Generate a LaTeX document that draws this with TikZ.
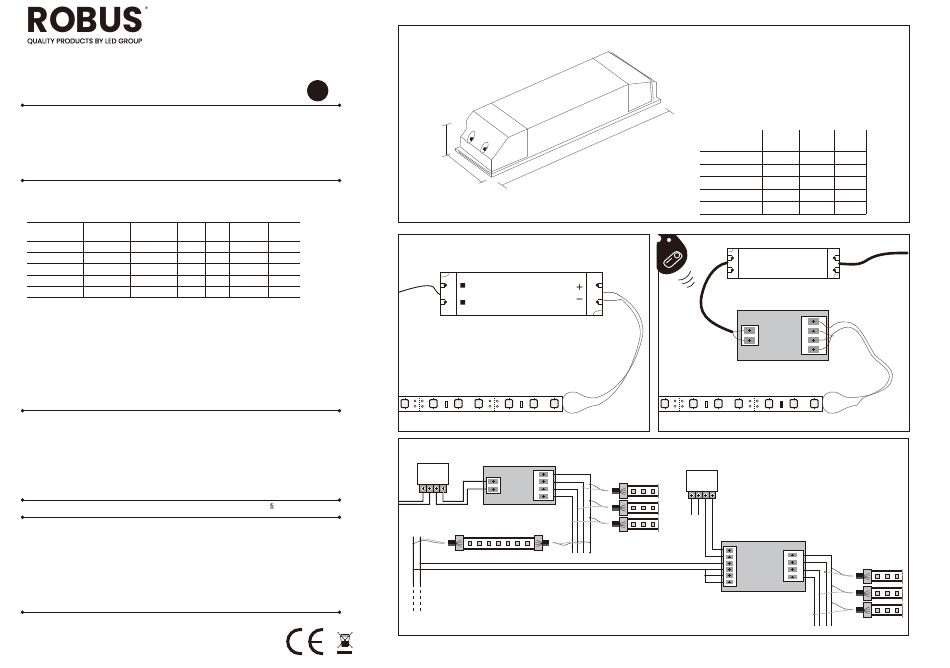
\documentclass[tikz,border=0pt]{standalone}
\usepackage{fontspec}
\usepackage{graphicx}
\newfontfamily\logofont{Poppins}
\newfontfamily\plainfont{Liberation Sans}
\definecolor{ink}{RGB}{35,24,21}
\definecolor{panelgray}{RGB}{200,201,202}
\definecolor{padgray}{RGB}{158,158,158}
\newcommand{\zbox}[6]{\node[#2,inner sep=0pt,outer sep=0pt,minimum width={(#5-#3)/3*1pt},minimum height={(#6-#4)/3*1pt}] (#1) at ({(#3+#5)/2},{(#4+#6)/2}) {};}
\newcommand{\zpad}[5]{\zbox{#1}{padbox}{#2}{#3}{#4}{#5}\draw[line width=.6pt,ink] (#1.center) +(-4,0) -- +(4,0) (#1.center) +(0,-4) -- +(0,4);}
\newcommand{\zterm}[3]{\zbox{#1}{termcell}{#2}{149}{#3}{172}}
\newcommand{\lugshape}{%
    \draw[ink,line width=.5pt] (0,-7) -- (13,-7) (0,7) -- (13,7) -- (13,3);
    \fill[ink] (15,0) circle (5.5);}
\newcommand{\plugshape}{%
    \fill[ink] (-33,-9) rectangle (-12,2);
    \fill[gray!65!black] (-33,2) rectangle (-12,9);
    \filldraw[draw=ink,line width=.8pt,fill=gray!45] (-12,-22) rectangle (12,22);
    \draw[ink,line width=.25pt] (-12,-1) -- (6,-9) (-12,1) -- (8,-2) (-12,2) -- (8,5) (-12,4) -- (6,11);}
\newcommand{\ledshape}[1]{%
    \draw[ink,line width=1pt,fill=gray!12,rounded corners=1pt] (#1-11,10) rectangle (#1+11,34);
    \draw[ink,line width=.3pt] (#1,10) -- (#1,6) (#1,34) -- (#1,38);}
\newcommand{\padshape}[1]{%
    \draw[ink,line width=.3pt,fill=gray!40] (#1,14) circle (3.5) (#1,30) circle (3.5) (#1+22,14) circle (3.5) (#1+22,30) circle (3.5);
    \draw[ink,line width=.3pt,dash pattern=on 1pt off 1pt] (#1+11,0) -- (#1+11,45);}
\tikzset{
  zs/.style={xscale=0.33333,yscale=0.33333},
  frame/.style={draw=ink,line width=.9pt},
  rulebar/.style={ink,line width=.9pt},
  tablerule/.style={ink,line width=.8pt},
  prod/.style={draw=ink!70,line width=.35pt},
  wire/.style={draw=ink,line width=.9pt},
  thinwire/.style={draw=ink!85,line width=.4pt},
  palewire/.style={draw=gray!55,line width=.9pt},
  fatwire/.style={draw=ink,line width=2.6pt,line cap=round},
  driverbox/.style={draw=ink,line width=.8pt,fill=white},
  ctrlbox/.style={draw=ink,line width=.9pt,fill=panelgray},
  whitebox/.style={draw=ink,line width=.9pt,fill=white},
  padbox/.style={fill=padgray},
  termcell/.style={draw=ink,line width=.5pt,fill=gray!70},
  relaybox/.style={draw=ink,line width=.8pt,fill=white},
  junction/.style={fill=ink},
  lug/.pic={\begin{scope}[zs]\lugshape\end{scope}},
  lugm/.pic={\begin{scope}[xscale=-0.33333,yscale=0.33333]\lugshape\end{scope}},
  plug/.pic={\begin{scope}[zs]\plugshape\end{scope}},
  plugm/.pic={\begin{scope}[xscale=-0.33333,yscale=0.33333]\plugshape\end{scope}},
  tailstrip/.pic={\begin{scope}[zs]
    \draw[ink,line width=1.7pt] (12,-15) -- (104,-15) (12,15) -- (104,15);
    \draw[ink,line width=.4pt] (104,-22) .. controls (100,-12) and (110,-6) .. (106,2) .. controls (102,8) and (110,16) .. (105,22);
    \foreach \q in {29,59,88} {
      \filldraw[draw=ink,line width=.6pt,fill=gray!35] (\q-5.5,-5.5) rectangle (\q+5.5,5.5);
    }
    \plugshape
  \end{scope}},
  ledstrip/.pic={\begin{scope}[zs]
    \draw[ink,line width=.8pt] (0,0) rectangle (493,45);
    \ledshape{19}\ledshape{105}\ledshape{180}\ledshape{241}\ledshape{332}\ledshape{406}\ledshape{468}
    \padshape{50}\padshape{275}
    \draw[ink,line width=.7pt,fill=white] (141,15) rectangle (148,33);
    \draw[ink,line width=.7pt,fill=white] (366,15) rectangle (373,33);
  \end{scope}}
}
\begin{document}
\begin{tikzpicture}[x=1pt,y=-1pt]
\useasboundingbox (0,0) rectangle (950,667);
\fill[white] (0,0) rectangle (950,667);

% ------------------ left column
\node[inner sep=0pt,anchor=base west,text=ink] (logo) at (26.5,32) {\raisebox{0pt}[\height][0pt]{\resizebox{117pt}{25.5pt}{\logofont\bfseries ROBUS}}};
\node[inner sep=0pt,text=ink,font=\logofont\fontsize{6.5}{7}\selectfont] (regmark) at (146.5,9.7) {®};
\node[inner sep=0pt,anchor=base west,text=ink] (tagline) at (27,43.4) {\raisebox{0pt}[4.8pt][0pt]{\resizebox{115pt}{!}{\logofont\addfontfeature{FakeBold=0.4}\fontsize{6.5}{7}\selectfont QUALITY PRODUCTS BY LED GROUP}}};
\fill[ink] (317.7,90.7) circle (10.7);
\foreach \y in {105.3,180.5,410.7,500,517.3,612.3} {
  \draw[rulebar] (22.5,\y) -- (339.5,\y);
  \fill[ink] (22.5,\y) circle (1.9) (339.5,\y) circle (1.9);
}
\foreach \y in {222,241,252.3,263.3,275.3,286.3,297.3} { \draw[tablerule] (27.3,\y) -- (299.7,\y); }
\foreach \x in {83.3,130.3,177.3,205.3,229.3,268.3} { \draw[tablerule] (\x,222) -- (\x,297.3); }
\node[inner sep=0pt,text=ink,font=\plainfont\fontsize{8}{9}\selectfont] (fitext) at (272,507) {fi};

% CE and WEEE marks
\draw[ink,line width=3pt] (302,629.6) -- (299.7,629.6) arc[start angle=270,end angle=90,radius=12] -- (302,653.6);
\draw[ink,line width=3pt] (323,629.6) -- (321.7,629.6) arc[start angle=270,end angle=90,radius=12] -- (323,653.6);
\draw[ink,line width=2.2pt] (310.5,641.6) -- (322,641.6);
\draw[ink,line width=.5pt] (337.5,632) -- (352.5,648) (352.5,632) -- (337.5,648);
\draw[ink,line width=.6pt] (340.5,636) -- (349.5,636) -- (348,646.5) -- (342,646.5) -- cycle (341,634.5) -- (349,634.5);
\fill[ink] (341.5,641) rectangle (348.5,646);
\fill[ink] (337,651) rectangle (352,654);

% ------------------ panels
\draw[frame] (398.3,25.7) rectangle (909,222);
\draw[frame] (398.3,234.7) rectangle (649.7,431.3);
\draw[frame] (658.3,234.7) rectangle (909,431.3);
\draw[frame] (398.3,438.3) rectangle (908.7,635.3);

% ------------------ top panel: product
\begin{scope}[shift={(395,20)},scale=0.33333]
  \draw[prod] (235,273) -- (640,95) -- (780,185) -- (785,187) -- (785,232) -- (797,238) -- (797,248) -- (290,472) -- (181,392) -- (181,385) -- (195,380);
  \draw[prod] (235,273) .. controls (225,285) and (212,300) .. (214,308) .. controls (220,325) and (212,330) .. (197,350) -- (195,380) -- (290,455) -- (397,410) -- (397,327) -- (700,193) -- (700,275) -- (770,243);
  \draw[prod] (235,273) -- (340,352) -- (397,327);
  \draw[prod] (290,250) -- (397,327);
  \draw[prod] (592,113) -- (700,193) -- (780,185);
  \draw[prod] (340,352) -- (290,420) -- (197,350);
  \draw[prod] (290,420) -- (290,472);
  \draw[prod] (181,385) -- (290,462) -- (797,238);
  \draw[prod] (190,395) -- (285,463);
  \draw[prod] (640,95) -- (690,125) -- (770,178) -- (775,240);
  \draw[prod] (650,97) -- (765,178) -- (770,243);
  \draw[prod,fill=white] (218,370) .. controls (212,358) and (228,330) .. (238,333) .. controls (245,340) and (232,372) .. (218,370);
  \draw[prod,fill=white] (258,400) .. controls (252,388) and (268,362) .. (278,366) .. controls (285,372) and (272,402) .. (258,400);
  \fill[ink] (226,352) -- (236,352) -- (230,363) -- (224,360) -- cycle;
  \fill[ink] (266,382) -- (276,382) -- (270,393) -- (264,390) -- cycle;
  \draw[ink,line width=1pt] (154,315) -- (154,405);
  \draw[prod] (140,318) -- (168,310) (140,411) -- (166,402);
  \draw[prod] (155,403) -- (262,488) (250,490) -- (275,480);
  \draw[prod] (322,495) -- (825,272);
  \draw[prod] (308,487) -- (335,505) (812,265) -- (838,283);
\end{scope}

% table in top panel
\begin{scope}[shift={(680,110)},scale=0.33333]
  \foreach \y in {124,162,199,238,274,313} { \draw[tablerule] (59,\y) -- (559,\y); }
  \foreach \x in {247,358,464,559} { \draw[tablerule] (\x,60) -- (\x,313); }
\end{scope}

% ------------------ middle left panel
\begin{scope}[shift={(395,232)},scale=0.33333]
  \zbox{driverL}{driverbox}{136}{122}{622}{250}
  \draw[ink,line width=.7pt] (185,122) -- (185,250) (574,122) -- (574,250);
  \pic at (136,159.5) {lug};
  \pic at (136,210) {lug};
  \pic at (622,159.5) {lugm};
  \pic at (622,210) {lugm};
  \draw[prod] (136,135) .. controls (150,135) and (165,132) .. (163,122);
  \draw[prod] (622,235) .. controls (605,235) and (592,240) .. (596,250);
  \fill[ink] (196,153) rectangle (210,167) (196,204) rectangle (210,218);
  \node[inner sep=0pt,text=ink,font=\plainfont\fontsize{12}{12}\selectfont] (plusL) at (554,169) {+};
  \node[inner sep=0pt,text=ink,font=\plainfont\fontsize{12}{12}\selectfont] (minusL) at (554,207) {−};
  \coordinate (mainsL) at (10,181);
  \draw[ink,line width=.9pt] (mainsL) .. controls (60,165) and (100,155) .. (115,165) .. controls (122,172) and (125,184) .. (136,188);
  % wires to strip
  \coordinate (splitLa) at (680,195);
  \coordinate (splitLb) at (680,202);
  \coordinate (blobLa) at (600,498);
  \coordinate (blobLb) at (605,520);
  \draw[ink!85,line width=.5pt] (622,183) .. controls (650,178) and (660,180) .. (splitLa);
  \draw[ink!85,line width=.5pt] (622,204) .. controls (650,208) and (665,205) .. (splitLb);
  \draw[prod,line width=.45pt] (blobLa) .. controls (670,480) and (725,400) .. (743,310) .. controls (750,260) and (715,215) .. (splitLa);
  \draw[prod,line width=.45pt] (blobLb) .. controls (670,495) and (718,400) .. (735,315) .. controls (742,265) and (705,225) .. (splitLb);
  \pic at (10,493) {ledstrip};
  \draw[prod,line width=.45pt] (blobLa) .. controls (560,498) and (555,482) .. (540,480) .. controls (520,478) and (500,485) .. (503,515) .. controls (503,545) and (530,548) .. (550,540) .. controls (565,533) and (580,522) .. (blobLb);
\end{scope}

% ------------------ middle right panel
\begin{scope}[shift={(655,232)},scale=0.33333]
  % remote
  \fill[ink] (8,8) -- (62,8) .. controls (85,35) and (100,50) .. (97,72) .. controls (95,100) and (65,125) .. (35,127) .. controls (20,128) and (8,118) .. (5,108) -- (5,40) -- cycle;
  \fill[white] (8,20) circle (11);
  \fill[white] (42,24) circle (6);
  \draw[white,line width=.9pt,rounded corners=3pt] (22,93) -- (65,55) -- (85,72) -- (42,110) -- cycle;
  \draw[white,line width=.8pt] (66,70) circle (8);
  \draw[white,line width=.8pt] (34,93) -- (50,79);
  \draw[ink,line width=.7pt] (70,144) .. controls (85,145) and (100,135) .. (107,118);
  \draw[ink,line width=.7pt] (82,155) .. controls (97,154) and (108,145) .. (113,135);
  \draw[ink,line width=.7pt] (96,166) .. controls (108,164) and (115,157) .. (118,150);

  \zbox{driverR}{driverbox}{217}{50}{553}{138}
  \draw[ink,line width=.7pt] (250,50) -- (250,138) (518,50) -- (518,138);
  \pic at (217,78) {lug};
  \pic at (217,114) {lug};
  \pic at (553,78) {lugm};
  \pic at (553,114) {lugm};
  \draw[prod] (217,60) .. controls (230,60) and (236,58) .. (235,50);
  \draw[prod] (553,125) .. controls (540,125) and (534,130) .. (536,138);
  \coordinate (mainsR) at (757,63);
  \draw[fatwire] (driverR.east |- 0,95) .. controls (590,97) and (610,100) .. (630,88) .. controls (660,68) and (690,62) .. (mainsR);

  \zbox{ctrlR}{ctrlbox}{247}{236}{521}{386}
  \zbox{inR}{whitebox}{260}{281}{311}{340}
  \zbox{outR}{whitebox}{439}{253}{515}{368}
  \zpad{inR1}{267}{286}{300}{306}
  \zpad{inR2}{267}{315}{300}{335}
  \zpad{outR1}{458}{259}{491}{278}
  \zpad{outR2}{458}{287}{491}{306}
  \zpad{outR3}{458}{315}{491}{334}
  \zpad{outR4}{458}{343}{491}{362}
  \coordinate (feedR) at (232,300);
  \draw[fatwire] (driverR.west |- 0,92) .. controls (175,100) and (150,145) .. (140,190) .. controls (130,240) and (150,270) .. (feedR);
  \draw[thinwire] (feedR) .. controls (240,325) and (250,322) .. (inR2.west);
  \draw[thinwire] (feedR) .. controls (245,300) and (255,295) .. (inR1.west);
  \coordinate (splitRa) at (575,270);
  \coordinate (splitRb) at (580,285);
  \coordinate (blobRa) at (590,497);
  \coordinate (blobRb) at (605,520);
  \draw[prod,line width=.45pt] (splitRa) .. controls (610,270) and (630,320) .. (660,370) .. controls (690,395) and (715,410) .. (712,435) .. controls (710,465) and (680,480) .. (640,490) .. controls (620,494) and (605,497) .. (blobRa);
  \draw[prod,line width=.45pt] (splitRb) .. controls (615,290) and (625,330) .. (650,370) .. controls (670,395) and (705,410) .. (703,435) .. controls (700,462) and (670,480) .. (630,495) .. controls (620,500) and (612,512) .. (blobRb);
  \draw[thinwire] (outR1.east) .. controls (505,268) and (510,290) .. (525,288) .. controls (540,272) and (555,268) .. (splitRa);
  \draw[thinwire] (outR2.east) .. controls (505,297) and (515,310) .. (530,310) .. controls (545,295) and (565,285) .. (splitRb);
  \draw[thinwire] (outR3.east) .. controls (510,325) and (520,322) .. (535,310);
  \draw[thinwire] (outR4.east) .. controls (505,353) and (520,350) .. (530,310);
  \pic at (10,493) {ledstrip};
  \fill[ink] (376,508) rectangle (383,526);
  \draw[prod,line width=.45pt] (blobRa) .. controls (560,498) and (555,482) .. (540,480) .. controls (520,478) and (500,485) .. (503,515) .. controls (503,545) and (530,548) .. (550,540) .. controls (565,533) and (580,522) .. (blobRb);
\end{scope}

% ------------------ bottom panel, left part
\begin{scope}[shift={(395,435)},scale=0.33333]
  \zbox{relayA}{relaybox}{67}{85}{161}{149}
  \zterm{tA1}{74}{94}
  \zterm{tA2}{94}{114}
  \zterm{tA3}{114}{134}
  \zterm{tA4}{134}{154}
  \foreach \n in {tA1,tA2,tA3,tA4} { \draw[white,line width=.8pt] (\n.center) circle (5); \draw[ink,line width=.4pt] (\n.center) +(-4,0) -- +(4,0) (\n.center) +(0,-4) -- +(0,4); }
  \zbox{ctrlA}{ctrlbox}{265}{95}{481}{208}
  \zbox{inA}{whitebox}{274}{127}{316}{176}
  \zbox{outA}{whitebox}{415}{106}{476}{196}
  \zpad{inA1}{279}{132}{310}{147}
  \zpad{inA2}{279}{156}{310}{171}
  \zpad{outA1}{431}{112}{458}{126}
  \zpad{outA2}{431}{133}{458}{147}
  \zpad{outA3}{431}{155}{458}{169}
  \zpad{outA4}{431}{177}{458}{191}
  \coordinate (lineA) at (10,199);
  \coordinate (lineB) at (10,208);
  \draw[wire] (tA1.south) -- (84,199) -- (lineA);
  \draw[wire] (tA2.south) -- (104,208) -- (lineB);
  \draw[wire] (tA3.south) -- (124,208) -- (217,208) -- (217,162) -- (inA.west |- 0,162);
  \draw[wire] (tA4.south) -- (144,199) -- (205,199) -- (205,139) -- (inA.west |- 0,139);
  \draw[palewire] (144,172) -- (144,197);
  \coordinate (busA1) at (585,353);
  \coordinate (busA2) at (565,353);
  \coordinate (busA3) at (548,353);
  \coordinate (busA4) at (532,353);
  \draw[wire] (outA.east |- 0,118) -| (busA1);
  \draw[wire] (outA.east |- 0,141) -| (busA2);
  \draw[wire] (outA.east |- 0,163) -| (busA3);
  \draw[wire] (outA.east |- 0,185) -| (busA4);
  \foreach \p in {(476,118),(476,141),(476,163),(476,185),(585,148),(565,158),(585,197),(548,222),(585,248),(532,260),(585,322),(565,322),(532,335),(585,353)} { \fill[junction] \p circle (2.5); }
  % wires to the three tails
  \coordinate (tailA1) at (640,167);
  \coordinate (tailA2) at (640,216);
  \coordinate (tailA3) at (640,266);
  \draw[thinwire] (585,148) .. controls (610,152) and (615,172) .. (tailA1);
  \draw[gray!60,line width=.6pt] (565,158) .. controls (590,165) and (610,160) .. (tailA1);
  \draw[thinwire] (585,197) .. controls (610,200) and (615,220) .. (tailA2);
  \draw[gray!45,line width=.9pt] (548,222) .. controls (580,215) and (610,212) .. (tailA2);
  \draw[thinwire] (585,248) .. controls (610,250) and (615,270) .. (tailA3);
  \draw[gray!45,line width=.9pt] (532,260) -- (600,260) -- (tailA3);
  \pic at (685,168) {tailstrip};
  \pic at (685,218) {tailstrip};
  \pic at (685,268) {tailstrip};
  % long strip
  \draw[ink,line width=1.7pt] (205,309) -- (418,309) (205,341) -- (418,341);
  \foreach \q in {224,252,281,310,338,367,396} { \filldraw[draw=ink,line width=.6pt,fill=gray!35] (\q-5.5,319.5) rectangle (\q+5.5,330.5); }
  \pic at (193,324) {plug};
  \pic at (430,324) {plugm};
  \coordinate (tapL) at (150,324);
  \coordinate (tapR) at (473,322);
  \coordinate (busL1) at (55,305);
  \coordinate (busL2) at (76,305);
  \draw[thinwire] (55,326) .. controls (70,320) and (80,312) .. (100,318) .. controls (120,322) and (130,326) .. (tapL);
  \draw[gray!60,line width=.6pt] (76,312) .. controls (95,310) and (120,318) .. (tapL);
  \draw[thinwire] (tapR) .. controls (490,322) and (500,335) .. (512,330) .. controls (525,322) and (550,318) .. (585,322);
  \draw[gray!60,line width=.6pt] (tapR) .. controls (490,330) and (505,325) .. (520,322) .. controls (535,320) and (550,330) .. (565,322);
  \fill[junction] (55,326) circle (2.5) (76,312) circle (2.5) (55,403) circle (2.5) (76,385) circle (2.5);
  \draw[wire] (busL1) -- (55,447);
  \draw[wire] (busL2) -- (76,447);
  \draw[wire,dash pattern=on 3pt off 3pt] (55,447) -- (55,530);
  \draw[wire,dash pattern=on 3pt off 3pt] (76,447) -- (76,530);
\end{scope}

% ------------------ bottom panel, right part
\begin{scope}[shift={(670,435)},scale=0.33333]
  \zbox{relayB}{relaybox}{49}{106}{143}{170}
  \zbox{tB1}{termcell}{55}{170}{75}{191}
  \zbox{tB2}{termcell}{76}{170}{96}{191}
  \zbox{tB3}{termcell}{97}{170}{117}{191}
  \zbox{tB4}{termcell}{118}{170}{137}{191}
  \foreach \n in {tB1,tB2,tB3,tB4} { \draw[white,line width=.8pt] (\n.center) circle (5); \draw[ink,line width=.4pt] (\n.center) +(-4,0) -- +(4,0) (\n.center) +(0,-4) -- +(0,4); }
  \zbox{ctrlB}{ctrlbox}{154}{319}{407}{470}
  \zbox{inB}{whitebox}{160}{334}{200}{455}
  \zbox{outB}{whitebox}{340}{346}{401}{440}
  \zpad{inB1}{167}{339}{190}{353}
  \zpad{inB2}{167}{359}{190}{373}
  \zpad{inB3}{167}{378}{190}{392}
  \zpad{inB4}{167}{396}{190}{410}
  \zpad{inB5}{167}{415}{190}{429}
  \zpad{inB6}{167}{434}{190}{448}
  \zpad{outB1}{354}{353}{381}{367}
  \zpad{outB2}{354}{375}{381}{389}
  \zpad{outB3}{354}{397}{381}{411}
  \zpad{outB4}{354}{419}{381}{433}
  \coordinate (stub1) at (65,240);
  \coordinate (stub2) at (86,240);
  \draw[wire] (tB1.south) -- (stub1);
  \draw[wire] (tB2.south) -- (stub2);
  \draw[wire] (tB3.south) |- (inB.west |- 0,364);
  \draw[wire] (tB4.south) |- (inB.west |- 0,343);
  \draw[wire] (105,403) -- (105,441);
  \draw[wire] (105,422) -- (inB.west |- 0,422);
  \draw[wire] (105,441) -- (inB.west |- 0,441);
  \coordinate (busB1) at (485,573);
  \coordinate (busB2) at (468,573);
  \coordinate (busB3) at (449,573);
  \coordinate (busB4) at (432,573);
  \draw[wire] (outB.east |- 0,361) -| (busB1);
  \draw[wire] (outB.east |- 0,383) -| (busB2);
  \draw[wire] (outB.east |- 0,405) -| (busB3);
  \draw[wire] (outB.east |- 0,427) -| (busB4);
  \foreach \p in {(401,361),(401,383),(401,405),(401,427),(485,400),(465,411),(485,452),(448,478),(485,503),(432,538),(105,422)} { \fill[junction] \p circle (2.5); }
  \coordinate (tailB1) at (549,423);
  \coordinate (tailB2) at (549,474);
  \coordinate (tailB3) at (549,524);
  \draw[thinwire] (485,400) .. controls (505,405) and (510,425) .. (tailB1);
  \draw[gray!60,line width=.6pt] (465,411) .. controls (500,412) and (520,425) .. (tailB1);
  \draw[thinwire] (485,452) .. controls (505,455) and (510,475) .. (tailB2);
  \draw[gray!60,line width=.6pt] (448,478) .. controls (490,472) and (520,468) .. (tailB2);
  \draw[thinwire] (485,503) .. controls (505,505) and (510,525) .. (tailB3);
  \draw[gray!60,line width=.6pt] (432,538) .. controls (480,535) and (520,525) .. (tailB3);
  \pic at (592,424) {tailstrip};
  \pic at (592,475) {tailstrip};
  \pic at (592,525) {tailstrip};
\end{scope}

% long horizontal lines between the two halves of the bottom panel
\draw[wire] (420.3,563.3) -- (inB.west |- 0,563.3);
\draw[wire] (413.3,569.3) -- (inB.west |- 0,569.3);
\end{tikzpicture}
\end{document}
